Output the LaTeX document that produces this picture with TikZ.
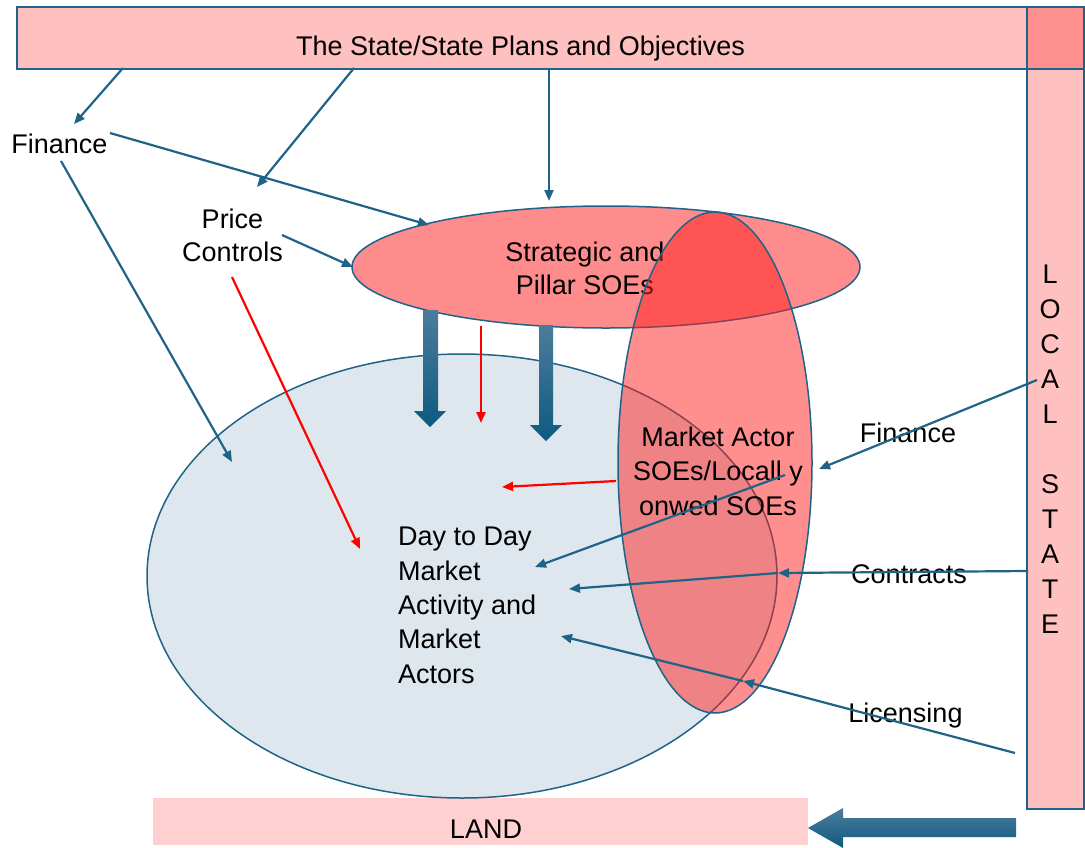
\documentclass[tikz,border=0pt]{standalone}
\usepackage{fontspec}
\setmainfont{Liberation Sans}
\usetikzlibrary{arrows.meta,shapes.geometric}

\definecolor{edge}{HTML}{1F6488}
\definecolor{barpink}{HTML}{FFC0C0}
\definecolor{cornerpink}{HTML}{FF9090}
\definecolor{landpink}{HTML}{FFD0D0}
\definecolor{soepink}{HTML}{FF8C8C}
\definecolor{marketblue}{HTML}{DEE7EE}
\definecolor{localred}{RGB}{255,30,30}
\definecolor{flowdark}{HTML}{0E5A80}
\definecolor{flowlight}{HTML}{4C7C9C}

\begin{document}
\begin{tikzpicture}[x=1pt,y=-1pt,
  lbl/.style={font=\fontsize{27}{34}\selectfont, inner sep=0pt},
  outline/.style={draw=edge, line width=1.5pt},
  box/.style={rectangle, inner sep=0pt, anchor=north west},
  oval/.style={ellipse, inner sep=0pt, outline},
  link/.style={draw=edge, line width=2.2pt, -{Triangle[length=11pt,width=9pt]}},
  redlink/.style={draw=red, line width=2.2pt, -{Triangle[length=11pt,width=9pt]}},
  flow/.style={top color=flowlight, bottom color=flowdark},
]
\useasboundingbox (0,0) rectangle (1085,847);

% bars: central state, local state, land
\node[box, outline, fill=barpink, minimum width=1010pt, minimum height=62pt] (statebar) at (16,6) {};
\node[box, outline, fill=barpink, minimum width=57pt, minimum height=802pt] (localbar) at (1026,6) {};
\node[box, outline, fill=cornerpink, minimum width=57pt, minimum height=62pt] (corner) at (1026,6) {};
\node[box, fill=landpink, minimum width=655pt, minimum height=47pt] (landbar) at (153,798) {};

% multi-line labels are placed by the baseline of their last line
\node[lbl, anchor=base] (title) at (520.5,55) {The State/State Plans and Objectives};
\node[lbl, anchor=base] (landtext) at (486,838) {LAND};
\node[lbl, anchor=base, align=center, font=\fontsize{27}{35}\selectfont] (localtext) at (1050,633)
  {L\\O\\C\\A\\L\\\mbox{}\\S\\T\\A\\T\\E};

% market activity and strategic SOEs
\node[oval, fill=marketblue, minimum width=630pt, minimum height=444pt] (market) at (462,576) {};
\node[oval, fill=soepink, minimum width=508pt, minimum height=122pt] (pillar) at (606,267) {};
\node[lbl, anchor=base, align=center, font=\fontsize{27}{33}\selectfont] (pillartext) at (585,294) {Strategic and\\Pillar SOEs};

% thick flows from strategic SOEs into the market
\shade[flow] (423,310) -- (438,310) -- (438,411) -- (446,411) -- (430,427) -- (414,411) -- (423,411) -- cycle;
\shade[flow] (539,325) -- (553,325) -- (553,425) -- (562,425) -- (546,441) -- (530,425) -- (539,425) -- cycle;
% thick flow from local state to land
\shade[flow] (1016,818) -- (1016,837) -- (843,837) -- (843,848) -- (808,828) -- (843,808) -- (843,818) -- cycle;

\node[lbl, anchor=base west, align=left, font=\fontsize{27}{34.3}\selectfont] (daytext) at (398,683)
  {Day to Day\\Market\\Activity and\\Market\\Actors};

% locally owned SOEs, translucent over both ovals
\node[oval, fill=localred, fill opacity=0.5, minimum width=194pt, minimum height=501pt] (localsoe) at (715,462.5) {};
\node[lbl, anchor=base, align=center, font=\fontsize{27}{34.5}\selectfont] (soetext) at (718,515)
  {Market Actor\\SOEs/Locall y\\onwed SOEs};

% side labels
\node[lbl, anchor=base] (finL) at (59.5,153) {Finance};
\node[lbl, anchor=base, align=center, font=\fontsize{27}{33}\selectfont] (price) at (232.5,261) {Price\\Controls};
\node[lbl, anchor=base] (finR) at (908,442) {Finance};
\node[lbl, anchor=base] (contracts) at (909,583) {Contracts};
\node[lbl, anchor=base] (licensing) at (905.5,722) {Licensing};

% connector end points
\coordinate (s1) at (123,68);   \coordinate (e1) at (74,124);
\coordinate (s2) at (354,68);   \coordinate (e2) at (257,187);
\coordinate (s3) at (549,68);   \coordinate (e3) at (549,201);
\coordinate (s4) at (110,133);  \coordinate (e4) at (429,225);
\coordinate (s5) at (61,161);   \coordinate (e5) at (232,462);
\coordinate (s6) at (282,235);  \coordinate (e6) at (353,267);
\coordinate (r1s) at (232,277); \coordinate (r1e) at (360,549);
\coordinate (r2s) at (481,326); \coordinate (r2e) at (481,423);
\coordinate (r3s) at (616,481); \coordinate (r3e) at (502,487);
\coordinate (s7) at (1037,380); \coordinate (e7) at (819,469);
\coordinate (s8) at (785,475);  \coordinate (e8) at (535,567);
\coordinate (s9) at (1028,571); \coordinate (e9) at (778,573);
\coordinate (e10) at (569,589);
\coordinate (s11) at (1015,753); \coordinate (e11) at (743,681);
\coordinate (e12) at (561,636);

% central state links
\draw[link] (s1) -- (e1);
\draw[link] (s2) -- (e2);
\draw[link] (s3) -- (e3);
\draw[link] (s4) -- (e4);
\draw[link] (s5) -- (e5);
\draw[link] (s6) -- (e6);

% price control and SOE influence
\draw[redlink] (r1s) -- (r1e);
\draw[redlink] (r2s) -- (r2e);
\draw[redlink] (r3s) -- (r3e);

% local state links
\draw[link] (s7) -- (e7);
\draw[link] (s8) -- (e8);
\draw[link] (s9) -- (e9);
\draw[link] (e9) -- (e10);
\draw[link] (s11) -- (e11);
\draw[link] (e11) -- (e12);
\end{tikzpicture}
\end{document}
